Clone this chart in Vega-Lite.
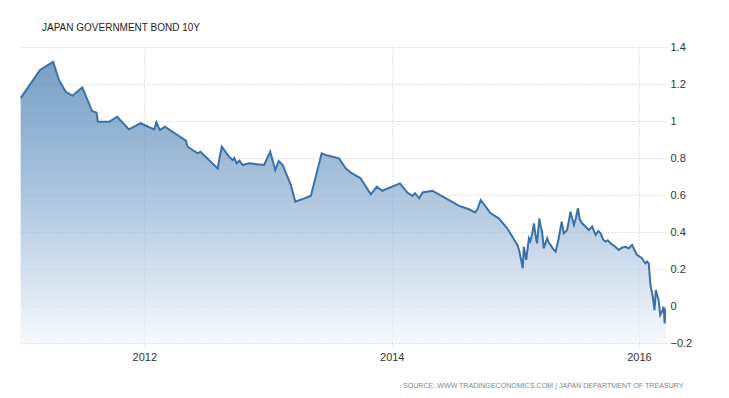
{
  "$schema": "https://vega.github.io/schema/vega-lite/v6.json",
  "autosize": {"type": "none"},
  "width": 646,
  "height": 296,
  "padding": {"left": 20, "top": 47, "right": 63, "bottom": 55},
  "background": "white",
  "title": {
    "text": "JAPAN GOVERNMENT BOND 10Y",
    "anchor": "start",
    "frame": "group",
    "dx": 22,
    "offset": 8,
    "font": "Liberation Sans",
    "fontSize": 10,
    "fontWeight": "normal",
    "color": "#1e1e1e"
  },
  "config": {
    "view": {"stroke": null},
    "axis": {
      "labelFont": "Liberation Sans",
      "labelFontSize": 11,
      "labelColor": "#333333",
      "gridColor": "#c8c8c8",
      "gridDash": [1, 2],
      "gridOpacity": 1,
      "domain": false
    }
  },
  "data": {
    "values": [
      {"date": "2011-01-01", "yield": 1.124},
      {"date": "2011-02-27", "yield": 1.276},
      {"date": "2011-04-07", "yield": 1.32},
      {"date": "2011-04-24", "yield": 1.222},
      {"date": "2011-05-14", "yield": 1.158},
      {"date": "2011-06-03", "yield": 1.137},
      {"date": "2011-07-02", "yield": 1.182},
      {"date": "2011-07-31", "yield": 1.054},
      {"date": "2011-08-13", "yield": 1.045},
      {"date": "2011-08-17", "yield": 0.996},
      {"date": "2011-09-19", "yield": 0.996},
      {"date": "2011-10-13", "yield": 1.023},
      {"date": "2011-11-17", "yield": 0.955},
      {"date": "2011-12-21", "yield": 0.988},
      {"date": "2012-01-30", "yield": 0.955},
      {"date": "2012-02-06", "yield": 0.993},
      {"date": "2012-02-16", "yield": 0.951},
      {"date": "2012-03-02", "yield": 0.969},
      {"date": "2012-05-03", "yield": 0.894},
      {"date": "2012-05-08", "yield": 0.861},
      {"date": "2012-06-07", "yield": 0.825},
      {"date": "2012-06-15", "yield": 0.834},
      {"date": "2012-08-05", "yield": 0.744},
      {"date": "2012-08-10", "yield": 0.798},
      {"date": "2012-08-17", "yield": 0.861},
      {"date": "2012-09-09", "yield": 0.804},
      {"date": "2012-09-18", "yield": 0.789},
      {"date": "2012-09-23", "yield": 0.8},
      {"date": "2012-09-30", "yield": 0.771},
      {"date": "2012-10-08", "yield": 0.786},
      {"date": "2012-10-18", "yield": 0.762},
      {"date": "2012-11-06", "yield": 0.771},
      {"date": "2012-12-20", "yield": 0.762},
      {"date": "2013-01-07", "yield": 0.834},
      {"date": "2013-01-22", "yield": 0.735},
      {"date": "2013-02-01", "yield": 0.784},
      {"date": "2013-02-13", "yield": 0.762},
      {"date": "2013-03-09", "yield": 0.654},
      {"date": "2013-03-22", "yield": 0.564},
      {"date": "2013-05-07", "yield": 0.595},
      {"date": "2013-06-08", "yield": 0.825},
      {"date": "2013-06-20", "yield": 0.816},
      {"date": "2013-07-29", "yield": 0.798},
      {"date": "2013-08-18", "yield": 0.744},
      {"date": "2013-09-02", "yield": 0.721},
      {"date": "2013-10-01", "yield": 0.69},
      {"date": "2013-10-31", "yield": 0.604},
      {"date": "2013-11-18", "yield": 0.645},
      {"date": "2013-12-04", "yield": 0.623},
      {"date": "2014-01-25", "yield": 0.663},
      {"date": "2014-02-16", "yield": 0.613},
      {"date": "2014-03-03", "yield": 0.595},
      {"date": "2014-03-11", "yield": 0.609},
      {"date": "2014-03-23", "yield": 0.582},
      {"date": "2014-04-02", "yield": 0.614},
      {"date": "2014-05-01", "yield": 0.623},
      {"date": "2014-06-10", "yield": 0.582},
      {"date": "2014-07-19", "yield": 0.541},
      {"date": "2014-08-17", "yield": 0.523},
      {"date": "2014-09-04", "yield": 0.506},
      {"date": "2014-09-11", "yield": 0.523},
      {"date": "2014-09-21", "yield": 0.573},
      {"date": "2014-10-20", "yield": 0.501},
      {"date": "2014-11-13", "yield": 0.474},
      {"date": "2014-12-08", "yield": 0.42},
      {"date": "2015-01-07", "yield": 0.33},
      {"date": "2015-01-12", "yield": 0.303},
      {"date": "2015-01-23", "yield": 0.204},
      {"date": "2015-01-26", "yield": 0.32},
      {"date": "2015-02-02", "yield": 0.249},
      {"date": "2015-02-10", "yield": 0.366},
      {"date": "2015-02-14", "yield": 0.35},
      {"date": "2015-02-19", "yield": 0.384},
      {"date": "2015-02-25", "yield": 0.447},
      {"date": "2015-03-01", "yield": 0.39},
      {"date": "2015-03-06", "yield": 0.339},
      {"date": "2015-03-13", "yield": 0.474},
      {"date": "2015-03-17", "yield": 0.43},
      {"date": "2015-03-21", "yield": 0.402},
      {"date": "2015-03-26", "yield": 0.312},
      {"date": "2015-04-01", "yield": 0.345},
      {"date": "2015-04-05", "yield": 0.366},
      {"date": "2015-04-10", "yield": 0.34},
      {"date": "2015-04-15", "yield": 0.33},
      {"date": "2015-04-22", "yield": 0.31},
      {"date": "2015-04-30", "yield": 0.294},
      {"date": "2015-05-08", "yield": 0.357},
      {"date": "2015-05-18", "yield": 0.456},
      {"date": "2015-05-24", "yield": 0.393},
      {"date": "2015-06-03", "yield": 0.411},
      {"date": "2015-06-08", "yield": 0.46},
      {"date": "2015-06-13", "yield": 0.51},
      {"date": "2015-06-23", "yield": 0.438},
      {"date": "2015-06-28", "yield": 0.47},
      {"date": "2015-07-05", "yield": 0.528},
      {"date": "2015-07-10", "yield": 0.47},
      {"date": "2015-07-17", "yield": 0.447},
      {"date": "2015-07-27", "yield": 0.43},
      {"date": "2015-08-06", "yield": 0.411},
      {"date": "2015-08-16", "yield": 0.429},
      {"date": "2015-08-26", "yield": 0.384},
      {"date": "2015-09-03", "yield": 0.405},
      {"date": "2015-09-10", "yield": 0.393},
      {"date": "2015-09-17", "yield": 0.36},
      {"date": "2015-09-24", "yield": 0.348},
      {"date": "2015-10-01", "yield": 0.355},
      {"date": "2015-10-09", "yield": 0.339},
      {"date": "2015-10-20", "yield": 0.325},
      {"date": "2015-11-02", "yield": 0.303},
      {"date": "2015-11-12", "yield": 0.315},
      {"date": "2015-11-22", "yield": 0.32},
      {"date": "2015-12-02", "yield": 0.312},
      {"date": "2015-12-12", "yield": 0.33},
      {"date": "2015-12-26", "yield": 0.276},
      {"date": "2016-01-10", "yield": 0.258},
      {"date": "2016-01-20", "yield": 0.23},
      {"date": "2016-01-25", "yield": 0.24},
      {"date": "2016-01-30", "yield": 0.23},
      {"date": "2016-02-04", "yield": 0.114},
      {"date": "2016-02-11", "yield": 0.05},
      {"date": "2016-02-16", "yield": -0.022},
      {"date": "2016-02-20", "yield": 0.086},
      {"date": "2016-02-28", "yield": 0.032},
      {"date": "2016-03-04", "yield": -0.049},
      {"date": "2016-03-09", "yield": -0.031},
      {"date": "2016-03-14", "yield": -0.004},
      {"date": "2016-03-17", "yield": -0.094},
      {"date": "2016-03-21", "yield": -0.012}
    ]
  },
  "mark": {
    "type": "area",
    "clip": true,
    "color": {
      "gradient": "linear",
      "x1": 0, "y1": 0, "x2": 0, "y2": 1,
      "stops": [
        {"offset": 0, "color": "#3d76ad"},
        {"offset": 0.5, "color": "#8fb0d2"},
        {"offset": 1, "color": "#f2f6fb"}
      ]
    },
    "line": {"color": "#3a72a8", "strokeWidth": 2}
  },
  "encoding": {
    "x": {
      "field": "date",
      "type": "temporal",
      "scale": {"domain": [{"year": 2010, "month": 12, "date": 30}, {"year": 2016, "month": 3, "date": 21}]},
      "axis": {
        "values": [{"year": 2012, "month": 1, "date": 1}, {"year": 2014, "month": 1, "date": 1}, {"year": 2016, "month": 1, "date": 1}],
        "format": "%Y",
        "tickSize": 6,
        "tickColor": "#c8c8c8",
        "tickDash": [1, 2],
        "labelPadding": 2,
        "labelFlush": false,
        "title": "SOURCE: WWW.TRADINGECONOMICS.COM | JAPAN DEPARTMENT OF TREASURY",
        "titleX": 663,
        "titleY": 42,
        "titleAlign": "right",
        "titleBaseline": "middle",
        "titleFont": "Liberation Sans",
        "titleFontSize": 7.1,
        "titleFontWeight": "normal",
        "titleColor": "#858585"
      }
    },
    "y": {
      "field": "yield",
      "type": "quantitative",
      "scale": {"domain": [-0.2, 1.4], "nice": false, "zero": false},
      "axis": {
        "orient": "right",
        "values": [-0.2, 0, 0.2, 0.4, 0.6, 0.8, 1, 1.2, 1.4],
        "format": "~g",
        "ticks": false,
        "labelPadding": 4,
        "title": null
      }
    },
    "y2": {"datum": -0.2}
  }
}
